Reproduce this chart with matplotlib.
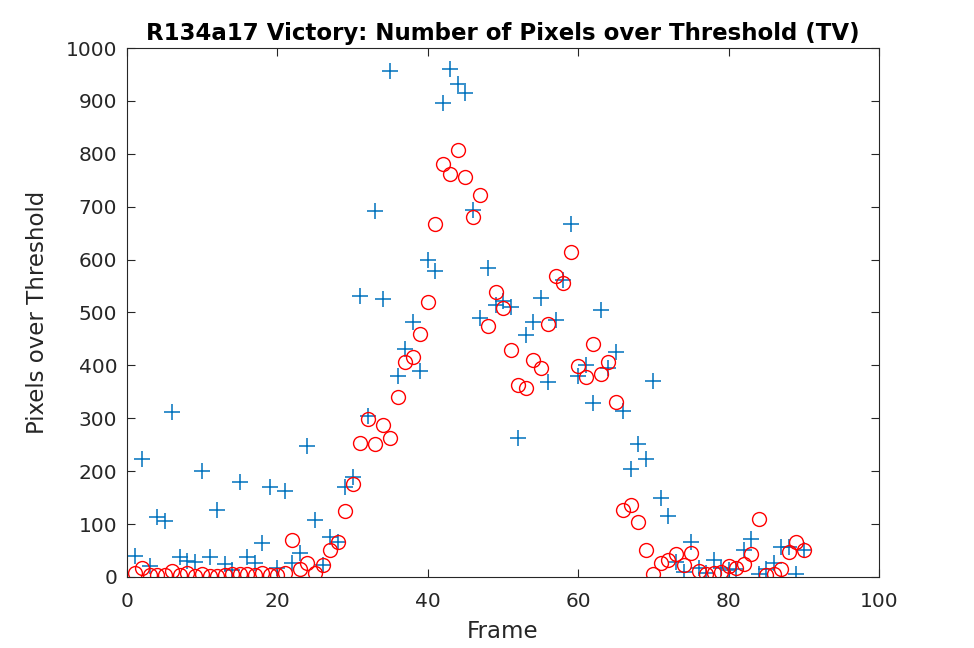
import matplotlib
matplotlib.use('Agg')
import matplotlib.pyplot as plt
import numpy as np

frames = np.arange(1, 91)

# Pixels over threshold, TV (blue crosses)
tv_plus = [40, 223, 20, 113, 106, 312, 38, 30, 28, 200,
           38, 127, 25, 13, 180, 38, 26, 64, 170, 17,
           163, 26, 45, 248, 108, 23, 76, 66, 170, 189,
           531, 304, 692, 525, 957, 380, 431, 482, 389, 599,
           578, 896, 960, 932, 915, 694, 490, 584, 514, 522,
           511, 263, 457, 482, 527, 369, 486, 561, 667, 380,
           401, 329, 505, 395, 425, 314, 204, 252, 223, 370,
           149, 115, 28, 9, 66, 17, 8, 33, 17, 13,
           15, 51, 72, 5, 15, 26, 57, 57, 6, 51]

# second series (red circles)
tv_circ = [7, 17, 3, 4, 4, 12, 4, 8, 1, 5,
           1, 1, 3, 5, 5, 5, 3, 8, 3, 3,
           8, 70, 15, 26, 8, 23, 51, 66, 125, 176,
           253, 299, 251, 287, 263, 340, 406, 416, 459, 520,
           667, 781, 762, 807, 756, 681, 722, 474, 539, 509,
           429, 363, 357, 410, 395, 478, 569, 556, 614, 399,
           378, 440, 384, 406, 331, 127, 136, 104, 51, 6,
           27, 32, 43, 22, 45, 12, 6, 7, 10, 20,
           17, 25, 43, 110, 4, 6, 15, 48, 66, 51]

plt.rcParams['font.family'] = ['DejaVu Sans']

fig = plt.figure(figsize=(9.74, 6.48), dpi=100)
ax = fig.add_axes([0.1304, 0.1096, 0.7721, 0.8163])

ax.plot(frames, tv_plus, linestyle='none', marker='+', markersize=11,
        markeredgewidth=1.1, color='#0072BD')
ax.plot(frames, tv_circ, linestyle='none', marker='o', markersize=10,
        markerfacecolor='none', markeredgewidth=1.0, markeredgecolor='red')

ax.set_xlim(0, 100)
ax.set_ylim(0, 1000)
ax.set_xticks(np.arange(0, 101, 20))
ax.set_yticks(np.arange(0, 1001, 100))
ax.tick_params(direction='in', top=True, right=True, labelsize=14.5,
               length=6, width=0.8, colors='#262626', pad=7)
ax.tick_params(axis='x', pad=11)
for s in ax.spines.values():
    s.set_linewidth(0.8)
    s.set_color('#262626')

ax.set_xlabel('Frame', fontsize=16.5, color='#262626', labelpad=6)
ax.set_ylabel('Pixels over Threshold', fontsize=16.5, color='#262626', labelpad=12)
ax.set_title('R134a17 Victory: Number of Pixels over Threshold (TV)',
             fontsize=16.5, fontweight='bold', pad=6)

fig.savefig('out.png', dpi=100)
